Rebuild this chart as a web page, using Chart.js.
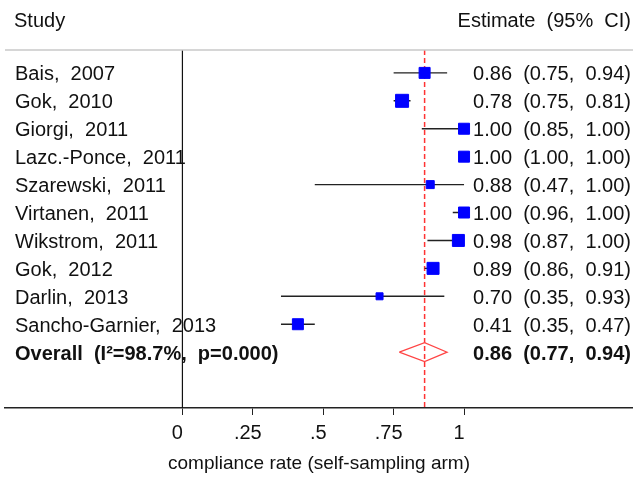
<!DOCTYPE html>
<html>
<head>
<meta charset="utf-8">
<script src="https://cdn.jsdelivr.net/npm/chart.js@4"></script>
<style>
  body { margin: 0; background: #fff; }
</style>
</head>
<body>
<canvas id="forest" width="633" height="477"></canvas>
<script>
// studies and their estimates
const studies = ['Bais,  2007', 'Gok,  2010', 'Giorgi,  2011', 'Lazc.-Ponce,  2011', 'Szarewski,  2011',
  'Virtanen,  2011', 'Wikstrom,  2011', 'Gok,  2012', 'Darlin,  2013', 'Sancho-Garnier,  2013'];
const estimates = [0.86, 0.78, 1.00, 1.00, 0.88, 1.00, 0.98, 0.89, 0.70, 0.41];
const lower = [0.75, 0.75, 0.85, 1.00, 0.47, 0.96, 0.87, 0.86, 0.35, 0.35];
const upper = [0.94, 0.81, 1.00, 1.00, 1.00, 1.00, 1.00, 0.91, 0.93, 0.47];
// study weights shown as box size (px side)
const boxSizes = [11, 13, 11, 11, 8, 11, 12, 12, 7, 11];

const overallLabel = 'Overall  (I\u00b2=98.7%,  p=0.000)';
const overallEst = 0.86;
const overallLower = 0.77;
const overallUpper = 0.94;

const tickValues = [0, 0.25, 0.5, 0.75, 1];
const tickLabels = ['0', '.25', '.5', '.75', '1'];

const FONT = '"Liberation Sans", Arial, sans-serif';
const yMin = 0.18, yMax = 13;
const overallRow = studies.length + 1;

function fmt(v) { return v.toFixed(2); }

// CI whiskers, broken into segments with null points
const ciData = [];
studies.forEach((s, i) => {
  ciData.push({x: lower[i], y: i + 1});
  ciData.push({x: upper[i], y: i + 1});
  ciData.push({x: upper[i], y: null});
});

const boxData = estimates.map((v, i) => ({x: v, y: i + 1}));

const dh = 0.34;
const diamond = [
  {x: overallLower, y: overallRow},
  {x: overallEst, y: overallRow - dh},
  {x: overallUpper, y: overallRow},
  {x: overallEst, y: overallRow + dh},
  {x: overallLower, y: overallRow}
];

const textPlugin = {
  id: 'forestText',
  afterDatasetsDraw(chart) {
    const {ctx, chartArea, scales: {y}} = chart;
    ctx.save();
    // rule under the header
    ctx.strokeStyle = '#c8c8c8';
    ctx.lineWidth = 1.5;
    ctx.beginPath();
    ctx.moveTo(chartArea.left, chartArea.top);
    ctx.lineTo(chartArea.right, chartArea.top);
    ctx.stroke();

    ctx.fillStyle = '#111';
    ctx.textBaseline = 'middle';
    ctx.font = '20px ' + FONT;
    ctx.textAlign = 'left';
    ctx.fillText('Study', 14, 21);
    ctx.textAlign = 'right';
    ctx.fillText('Estimate  (95%  CI)', 631, 21);

    studies.forEach((s, i) => {
      const py = y.getPixelForValue(i + 1) + 2;
      ctx.textAlign = 'left';
      ctx.fillText(s, 15, py);
      ctx.textAlign = 'right';
      ctx.fillText(fmt(estimates[i]) + '  (' + fmt(lower[i]) + ',  ' + fmt(upper[i]) + ')', 631, py);
    });

    const po = y.getPixelForValue(overallRow) + 2;
    ctx.font = 'bold 20px ' + FONT;
    ctx.textAlign = 'left';
    ctx.fillText(overallLabel, 15, po);
    ctx.textAlign = 'right';
    ctx.fillText(fmt(overallEst) + '  (' + fmt(overallLower) + ',  ' + fmt(overallUpper) + ')', 631, po);
    ctx.restore();
  }
};

new Chart(document.getElementById('forest'), {
  type: 'scatter',
  data: {
    datasets: [
      {
        label: 'studies',
        data: boxData,
        pointStyle: 'rect',
        pointRadius: boxSizes.map(s => s / Math.SQRT2),
        backgroundColor: '#0000ff',
        borderColor: '#0000ff',
        borderWidth: 1,
        order: 1
      },
      {
        label: 'ci',
        type: 'line',
        data: ciData,
        borderColor: '#222',
        borderWidth: 1.4,
        pointRadius: 0,
        spanGaps: false,
        order: 2
      },
      {
        label: 'overall',
        type: 'line',
        data: diamond,
        borderColor: '#ff4444',
        borderWidth: 1.2,
        pointRadius: 0,
        fill: false,
        order: 0
      },
      {
        label: 'overall line',
        type: 'line',
        data: [{x: overallEst, y: yMin}, {x: overallEst, y: yMax}],
        borderColor: '#ff3333',
        borderWidth: 1.5,
        borderDash: [5, 3],
        pointRadius: 0,
        order: 3
      },
      {
        label: 'null line',
        type: 'line',
        data: [{x: 0, y: yMin}, {x: 0, y: yMax}],
        borderColor: '#111',
        borderWidth: 1.2,
        pointRadius: 0,
        order: 4
      }
    ]
  },
  options: {
    responsive: false,
    animation: false,
    layout: {
      autoPadding: false,
      padding: {top: 50, left: 5, right: 0, bottom: 0}
    },
    plugins: {
      legend: {display: false},
      tooltip: {enabled: false}
    },
    scales: {
      x: {
        type: 'linear',
        min: -0.63,
        max: 1.6,
        afterBuildTicks: axis => { axis.ticks = tickValues.map(v => ({value: v})); },
        afterFit: axis => {
          axis.height = 69;
          axis.paddingLeft = 0;
          axis.paddingRight = 0;
        },
        grid: {
          drawOnChartArea: false,
          drawTicks: true,
          tickLength: 7,
          color: '#222'
        },
        border: {display: true, color: '#222', width: 1.5},
        ticks: {
          callback: (v, i) => tickLabels[i],
          font: {family: FONT, size: 20},
          color: '#111',
          padding: 6,
          labelOffset: -5,
          maxRotation: 0
        },
        title: {
          display: true,
          text: 'compliance rate (self-sampling arm)',
          font: {family: FONT, size: 19},
          color: '#111',
          padding: {top: 0, bottom: 2}
        }
      },
      y: {
        type: 'linear',
        reverse: true,
        min: yMin,
        max: yMax,
        display: false
      }
    }
  },
  plugins: [textPlugin]
});
</script>
</body>
</html>
